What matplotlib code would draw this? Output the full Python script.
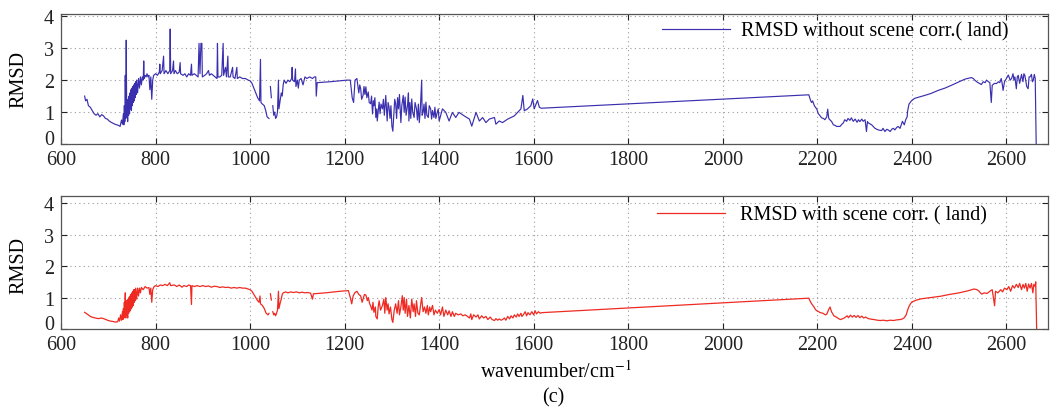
import numpy as np
import matplotlib
matplotlib.use("Agg")
import matplotlib.pyplot as plt
from matplotlib.transforms import ScaledTranslation

nan = np.nan

# ---------------- data: RMSD without scene correction (land) ----------------
wn_top = [
    650, 652, 655, 658, 662, 666, 670, 674, 678, 682,
    686, 690, 694, 698, 702, 706, 710, 714, 718, 722,
    725, 728, 730, 732, 733, 734, 735, 736, 737, 738,
    739, 740, 741, 742, 743, 744, 745, 746, 747, 748,
    749, 750, 751, 752, 753, 754, 755, 756, 757, 758,
    759, 760, 762, 764, 766, 768, 770, 772, 774, 775,
    776, 778, 780, 782, 784, 786, 788, 790, 792, 794,
    796, 800, 804, 808, 809, 810, 814, 817, 818, 822,
    826, 830, 831, 832, 836, 838, 839, 842, 846, 850,
    852, 853, 858, 862, 866, 870, 874, 876, 877, 882,
    886, 890, 892, 894, 896, 898, 899, 904, 908, 912,
    914, 918, 922, 926, 930, 931, 932, 936, 940, 943,
    944, 948, 950, 953, 954, 958, 963, 964, 968, 972,
    973, 978, 984, 990, 996, 1000, 1004, 1008, 1012, 1016,
    1020, 1022, 1023, 1026, 1030, 1033, 1036, 1040, 1041, 1043,
    1045, 1046, 1048, 1050, 1052, 1054, 1056, 1058, 1060, 1061,
    1064, 1066, 1068, 1070, 1072, 1076, 1080, 1084, 1088, 1089,
    1090, 1094, 1096, 1097, 1100, 1102, 1104, 1108, 1112, 1116,
    1120, 1126, 1132, 1136, 1139, 1140, 1142, 1170, 1205, 1212,
    1216, 1219, 1222, 1226,
    1230, 1232, 1234, 1236, 1239, 1241, 1243, 1245, 1247, 1250,
    1252, 1255, 1257, 1259, 1261, 1262, 1264, 1266, 1268, 1269,
    1271, 1273, 1275, 1277, 1280, 1282, 1284, 1287, 1289, 1290,
    1292, 1294, 1296, 1298, 1300, 1302, 1304, 1306, 1308, 1310,
    1312, 1314, 1316, 1319, 1321, 1324, 1326, 1328, 1330, 1333,
    1335, 1336, 1338, 1340, 1342, 1344, 1347, 1349, 1352, 1354,
    1356, 1358, 1360, 1363, 1364, 1366, 1368, 1370, 1372, 1374,
    1377, 1379, 1382, 1384, 1386, 1389, 1391, 1393, 1396, 1398,
    1400,
    1407, 1414, 1421, 1428, 1435, 1442, 1453, 1464, 1469, 1478,
    1485, 1492, 1499, 1506, 1517, 1520, 1527, 1534, 1545, 1552,
    1559, 1566, 1573, 1577, 1580, 1587, 1594, 1598, 1601, 1608,
    1612, 1616, 2182, 2184, 2186, 2188, 2190, 2194, 2199, 2202,
    2206, 2209, 2213, 2216, 2220, 2222, 2224, 2225, 2230, 2234,
    2238, 2241, 2248, 2252, 2255, 2258, 2262, 2265, 2269, 2272,
    2276, 2280, 2284, 2287, 2290, 2294, 2297, 2301, 2304, 2306,
    2308, 2315, 2322, 2329, 2336, 2339, 2343, 2347, 2350, 2354,
    2358, 2361, 2364, 2368, 2371, 2375, 2378, 2380, 2384, 2387,
    2390, 2391, 2394, 2399, 2406, 2427, 2440, 2456, 2470, 2484,
    2500, 2512, 2526, 2530, 2533, 2537, 2540, 2545, 2547, 2551,
    2555, 2558, 2562, 2565, 2568, 2570, 2575, 2579, 2583, 2586,
    2589, 2591, 2593, 2596, 2600, 2604, 2608, 2611, 2614, 2616,
    2618, 2621, 2623, 2625, 2628, 2632, 2635, 2637, 2639, 2643,
    2646, 2648, 2650, 2653, 2655, 2657, 2659, 2661, 2662, 2663,
]
rmsd_top = [
    1.5, 1.35, 1.4, 1.2, 1.15, 1.05, 0.95, 0.9, 0.95, 0.85,
    0.92, 0.88, 0.8, 0.78, 0.72, 0.68, 0.65, 0.62, 0.6, 0.58,
    0.55, 0.75, 0.62, 0.95, 0.6, 1.2, 0.7, 2.15, 0.8, 3.25,
    0.85, 1.3, 0.7, 1.4, 0.9, 1.5, 0.95, 1.6, 1.1, 1.7,
    1.05, 1.75, 1.2, 1.8, 1.3, 1.85, 1.35, 1.9, 1.45, 1.95,
    1.55, 2.0, 1.6, 2.05, 1.75, 2.1, 1.85, 2.1, 2.0, 2.6,
    2.05, 2.15, 2.1, 2.2, 2.1, 2.15, 1.7, 2.1, 1.4, 2.0,
    2.15, 2.2, 2.15, 2.25, 2.5, 2.2, 2.3, 2.75, 2.2, 2.3,
    2.2, 2.3, 3.6, 2.2, 2.3, 2.6, 2.2, 2.3, 2.2, 2.25,
    2.55, 2.2, 2.15, 2.2, 2.1, 2.2, 2.15, 2.5, 2.15, 2.2,
    2.15, 2.1, 3.15, 2.2, 3.15, 3.15, 2.1, 2.15, 2.2, 2.3,
    2.15, 2.2, 2.15, 2.1, 2.05, 3.15, 2.1, 2.1, 2.15, 3.15,
    2.15, 2.4, 2.1, 2.75, 2.1, 2.1, 2.4, 2.1, 2.05, 2.4,
    2.05, 2.1, 2.05, 2.05, 2.0, 1.98, 1.9, 1.75, 1.6, 1.45,
    1.35, 2.65, 1.3, 1.25, 1.2, 1.05, 0.85, 0.8, nan, 1.8,
    1.45, nan, 1.2, 0.9, 1.0, 0.8, 0.85, 1.0, 2.0, 1.1,
    1.4, 1.6, 1.5, 1.85, 2.0, 1.9, 2.0, 1.95, 2.05, 2.4,
    2.0, 1.95, 2.35, 1.8, 2.0, 1.75, 2.0, 2.05, 1.85, 2.1,
    2.05, 2.1, 2.05, 2.1, 2.1, 1.5, 1.92, 1.95, 2.0, 2.0,
    1.45, 1.3, 2.0, 2.05,
    1.6, 1.85, 1.73, 1.4, 1.52, 1.8, 1.55, 1.79, 1.45, 1.63,
    1.3, 1.26, 1.5, 0.94, 1.35, 1.2, 1.45, 0.83, 1.1, 0.72,
    1.0, 1.31, 0.95, 1.25, 1.1, 1.4, 0.9, 1.52, 1.0, 0.72,
    1.3, 1.15, 0.8, 1.2, 0.56, 0.4, 0.9, 1.4, 1.26, 0.8,
    1.45, 1.1, 1.55, 0.67, 1.2, 1.52, 1.0, 1.47, 0.9, 1.2,
    1.6, 0.72, 1.3, 0.8, 1.41, 1.0, 0.83, 1.3, 1.1, 0.75,
    1.25, 0.67, 1.05, 2.0, 0.9, 0.99, 1.25, 0.8, 1.31, 0.9,
    0.83, 1.2, 1.1, 0.78, 1.05, 0.83, 1.15, 0.8, 0.99, 1.1,
    0.72,
    1.1, 0.99, 0.72, 0.99, 0.83, 0.99, 0.88, 0.78, 0.56, 0.99,
    0.72, 0.83, 0.67, 0.78, 0.83, 0.62, 0.72, 0.67, 0.78, 0.83,
    0.88, 0.99, 1.1, 1.52, 1.04, 1.1, 1.2, 1.41, 1.1, 1.36,
    1.15, 1.12, 1.54, 1.45, 1.35, 1.3, 1.35, 1.19, 1.09, 0.95,
    0.88, 0.82, 0.8, 0.76, 0.85, 1.09, 0.82, 0.78, 0.71, 0.6,
    0.58, 0.55, 0.55, 0.62, 0.66, 0.76, 0.71, 0.8, 0.74, 0.82,
    0.71, 0.78, 0.68, 0.76, 0.7, 0.78, 0.71, 0.76, 0.39, 0.7,
    0.66, 0.6, 0.49, 0.44, 0.42, 0.49, 0.39, 0.46, 0.44, 0.39,
    0.47, 0.49, 0.44, 0.52, 0.55, 0.49, 0.62, 0.71, 0.6, 0.76,
    0.85, 1.03, 1.25, 1.35, 1.43, 1.52, 1.58, 1.68, 1.75, 1.84,
    1.95, 2.03, 2.08, 2.05, 2.0, 1.95, 1.92, 1.88, 1.86, 1.95,
    1.92, 2.0, 1.95, 1.92, 1.3, 1.84, 1.9, 1.89, 1.95, 1.92,
    2.05, 1.9, 1.68, 1.95, 2.05, 2.16, 2.0, 2.05, 2.2, 2.0,
    2.1, 1.73, 2.1, 2.15, 1.9, 2.18, 1.95, 2.2, 2.15, 1.8,
    1.73, 2.1, 2.1, 2.18, 1.95, 2.0, 2.18, 2.05, 1.09, 0.0,
]

# ---------------- data: RMSD with scene correction (land) ----------------
wn_bot = [
    650, 653, 656, 660, 665, 670, 675, 680, 685, 690,
    695, 700, 705, 710, 715, 720, 722, 724, 726, 728,
    730, 731, 732, 733, 734, 735, 736, 737, 738, 739,
    740, 741, 742, 743, 744, 745, 746, 747, 748, 749,
    750, 751, 752, 753, 754, 755, 756, 757, 758, 760,
    762, 764, 766, 768, 770, 774, 778, 782, 786, 788,
    790, 792, 794, 797, 800, 805, 810, 815, 820, 825,
    830, 832, 840, 845, 850, 856, 860, 866, 870, 874,
    876, 877, 882, 888, 894, 900, 906, 912, 918, 924,
    930, 936, 942, 948, 954, 960, 966, 972, 978, 984,
    990, 996, 1000, 1004, 1008, 1012, 1016, 1019, 1021, 1022,
    1026, 1030, 1034, 1038, 1040, 1041, 1043, 1045, 1046, 1048,
    1050, 1052, 1054, 1056, 1058, 1060, 1061, 1064, 1066, 1068,
    1070, 1075, 1080, 1086, 1092, 1098, 1104, 1110, 1116, 1122,
    1128, 1132, 1134, 1160, 1190, 1208, 1212, 1215, 1218, 1222,
    1226, 1230, 1234, 1237, 1239, 1242, 1245, 1248, 1250, 1253,
    1255, 1258, 1260, 1262, 1265, 1266, 1269, 1271, 1273, 1276,
    1280, 1283, 1285, 1287, 1290, 1292, 1294, 1297, 1300, 1302,
    1305, 1308, 1311, 1314, 1316, 1319, 1322, 1324, 1326, 1328,
    1331, 1333, 1336, 1339, 1342, 1345, 1347, 1350, 1352, 1355,
    1358, 1361, 1363, 1366, 1369, 1372, 1375, 1377, 1380, 1382,
    1386, 1389, 1392, 1396, 1400, 1403, 1407, 1410, 1414, 1418,
    1421, 1425, 1428, 1432, 1435, 1440, 1446, 1450, 1455, 1460,
    1464, 1467, 1469, 1473, 1478, 1482, 1485, 1490, 1494, 1499,
    1503, 1508, 1512, 1517, 1520, 1524, 1527, 1531, 1534, 1538,
    1541, 1545, 1549, 1552, 1556, 1559, 1563, 1566, 1569, 1573,
    1575, 1578, 1582, 1585, 1588, 1592, 1596, 1600, 1603, 1606,
    1610, 1614, 1617, 2182, 2186, 2189, 2193, 2196, 2199, 2203,
    2206, 2212, 2217, 2220, 2224, 2227, 2230, 2235, 2240, 2245,
    2249, 2254, 2258, 2263, 2266, 2270, 2274, 2278, 2282, 2286,
    2290, 2294, 2298, 2302, 2308, 2315, 2320, 2327, 2333, 2340,
    2347, 2354, 2361, 2368, 2375, 2380, 2384, 2388, 2391, 2394,
    2397, 2400, 2410, 2420, 2440, 2460, 2480, 2500, 2520, 2531,
    2536, 2541, 2545, 2548, 2553, 2559, 2565, 2570, 2575, 2577,
    2582, 2588, 2592, 2596, 2601, 2605, 2609, 2613, 2617, 2621,
    2625, 2628, 2632, 2635, 2638, 2641, 2644, 2647, 2650, 2653,
    2656, 2658, 2661, 2662, 2663, 2664,
]
rmsd_bot = [
    0.53, 0.5, 0.47, 0.42, 0.38, 0.36, 0.34, 0.33, 0.35, 0.33,
    0.3, 0.27, 0.25, 0.24, 0.22, 0.23, 0.35, 0.25, 0.45, 0.28,
    0.55, 0.3, 0.65, 0.35, 0.85, 0.4, 1.15, 0.35, 0.9, 0.45,
    0.8, 0.35, 0.95, 0.5, 1.0, 0.55, 1.05, 0.6, 1.1, 0.65,
    1.15, 0.7, 1.2, 0.75, 1.25, 0.85, 1.25, 0.9, 1.3, 0.95,
    1.3, 1.05, 1.3, 1.15, 1.32, 1.25, 1.35, 1.3, 1.32, 1.1,
    1.3, 0.85, 1.25, 1.35, 1.38, 1.35, 1.4, 1.38, 1.42, 1.38,
    1.47, 1.38, 1.4, 1.35, 1.4, 1.33, 1.38, 1.35, 1.4, 1.38,
    0.78, 1.38, 1.35, 1.38, 1.35, 1.38, 1.35, 1.37, 1.33, 1.36,
    1.35, 1.32, 1.34, 1.32, 1.33, 1.3, 1.32, 1.3, 1.32, 1.3,
    1.3, 1.27, 1.25, 1.2, 1.1, 1.0, 0.9, 0.85, 1.05, 0.8,
    0.75, 0.65, 0.5, 0.45, 0.5, nan, 1.12, 0.92, nan, 0.55,
    0.45, 0.5, 0.42, 0.5, 0.6, 1.2, 0.65, 0.85, 0.95, 1.1,
    1.15, 1.18, 1.15, 1.18, 1.16, 1.18, 1.15, 1.17, 1.15, 1.16,
    1.14, 0.95, 1.12, 1.15, 1.2, 1.22, 1.0, 0.8, 1.05, 1.16,
    1.2, 1.1, 1.05, 0.85, 0.95, 1.1, 1.08, 0.9, 1.0, 0.8,
    0.74, 0.6, 0.85, 0.53, 0.7, 0.4, 0.32, 0.7, 0.9, 0.6,
    0.75, 0.95, 0.5, 1.0, 0.6, 0.8, 0.48, 0.7, 0.3, 0.21,
    0.6, 0.8, 0.5, 0.9, 0.45, 0.7, 1.06, 0.6, 1.0, 0.5,
    0.95, 0.4, 0.75, 0.35, 0.95, 0.55, 0.8, 0.4, 0.9, 0.5,
    0.45, 0.8, 1.0, 0.55, 0.7, 0.5, 0.75, 0.45, 0.7, 0.55,
    0.75, 0.45, 0.6, 0.5, 0.62, 0.45, 0.7, 0.4, 0.6, 0.45,
    0.58, 0.4, 0.55, 0.4, 0.5, 0.45, 0.48, 0.42, 0.45, 0.4,
    0.35, 0.48, 0.3, 0.45, 0.38, 0.45, 0.32, 0.42, 0.35, 0.4,
    0.3, 0.38, 0.3, 0.27, 0.33, 0.28, 0.32, 0.28, 0.3, 0.35,
    0.28, 0.4, 0.32, 0.42, 0.35, 0.45, 0.38, 0.48, 0.4, 0.5,
    0.4, 0.45, 0.55, 0.42, 0.52, 0.45, 0.55, 0.45, 0.58, 0.48,
    0.55, 0.5, 0.52, 0.98, 0.85, 0.78, 0.7, 0.62, 0.58, 0.55,
    0.52, 0.5, 0.45, 0.47, 0.62, 0.7, 0.55, 0.42, 0.38, 0.33,
    0.3, 0.33, 0.36, 0.42, 0.36, 0.44, 0.38, 0.43, 0.37, 0.43,
    0.36, 0.41, 0.35, 0.38, 0.33, 0.31, 0.3, 0.28, 0.27, 0.28,
    0.26, 0.28, 0.27, 0.29, 0.3, 0.32, 0.36, 0.45, 0.6, 0.72,
    0.8, 0.86, 0.92, 0.96, 1.0, 1.04, 1.1, 1.15, 1.22, 1.27,
    1.26, 1.22, 1.15, 1.11, 1.15, 1.13, 1.2, 1.25, 0.74, 1.2,
    1.15, 1.25, 1.18, 1.3, 1.25, 1.35, 1.2, 1.38, 1.3, 1.42,
    1.32, 1.45, 1.25, 1.42, 1.3, 1.45, 1.2, 1.43, 1.3, 1.45,
    1.15, 1.42, 1.35, 1.5, 0.74, 0.0,
]

x_ticks = [600, 800, 1000, 1200, 1400, 1600, 1800, 2000, 2200, 2400, 2600]
y_ticks = [0, 1, 2, 3, 4]
label_top = "RMSD without scene corr.( land)"
label_bot = "RMSD with scene corr. ( land)"
x_label = "wavenumber/cm$^{-1}$"
y_label = "RMSD"
panel_tag = "(c)"

assert len(wn_top) == len(rmsd_top)
assert len(wn_bot) == len(rmsd_bot)

# ---------------- style ----------------
plt.rcParams["font.family"] = ["Liberation Serif", "DejaVu Serif"]
plt.rcParams["mathtext.fontset"] = "stix"

W, H = 1051, 410
fig = plt.figure(figsize=(W / 100, H / 100), dpi=100)

def px_axes(left, top, right, bottom):
    return fig.add_axes([left / W, 1 - bottom / H, (right - left) / W, (bottom - top) / H])

ax1 = px_axes(61, 15, 1048, 145)
ax2 = px_axes(61, 197, 1048, 330)

FS = 14.5
blue = "#3a2fae"
red = "#ee2a22"

ax1.plot(wn_top, rmsd_top, color=blue, lw=0.85, label=label_top)
ax2.plot(wn_bot, rmsd_bot, color=red, lw=0.9, label=label_bot)

for ax, ytop in ((ax1, 4.07), (ax2, 4.23)):
    ax.set_xlim(600, 2688)
    ax.set_ylim(0, ytop)
    ax.set_xticks(x_ticks)
    ax.set_yticks(y_ticks)
    ax.grid(True, color="#9a9a9a", linestyle=(0, (1, 3)), linewidth=0.8)
    ax.tick_params(direction="in", top=True, right=True, length=4, width=0.8,
                   labelsize=FS, colors="#222222")
    ax.tick_params(axis="x", pad=4)
    ax.tick_params(axis="y", pad=5)
    for s in ax.spines.values():
        s.set_color("#555555")
        s.set_linewidth(0.9)

ax1.legend(loc="center left", bbox_to_anchor=((662 - 61) / 987, (145 - 32) / 130),
           frameon=False, fontsize=FS, handlelength=3.4, handletextpad=0.5,
           borderpad=0, borderaxespad=0)
ax2.legend(loc="center left", bbox_to_anchor=((657 - 61) / 987, (330 - 216) / 133),
           frameon=False, fontsize=FS, handlelength=3.4, handletextpad=0.7,
           borderpad=0, borderaxespad=0)

fig.text(19 / W, 1 - 80 / H, y_label, rotation=90, ha="center", va="center", fontsize=FS)
fig.text(19 / W, 1 - 265 / H, y_label, rotation=90, ha="center", va="center", fontsize=FS)
fig.text(556 / W, 1 - 372 / H, x_label, ha="center", va="center", fontsize=FS)
fig.text(553 / W, 1 - 398 / H, panel_tag, ha="center", va="center", fontsize=FS)

# lift the "0" y tick label slightly so it clears the "600" x tick label
fig.canvas.draw()
for ax in (ax1, ax2):
    lab = ax.yaxis.get_major_ticks()[0].label1
    lab.set_transform(lab.get_transform() + ScaledTranslation(0, 5 / 72, fig.dpi_scale_trans))

fig.savefig("out.png", dpi=100)
